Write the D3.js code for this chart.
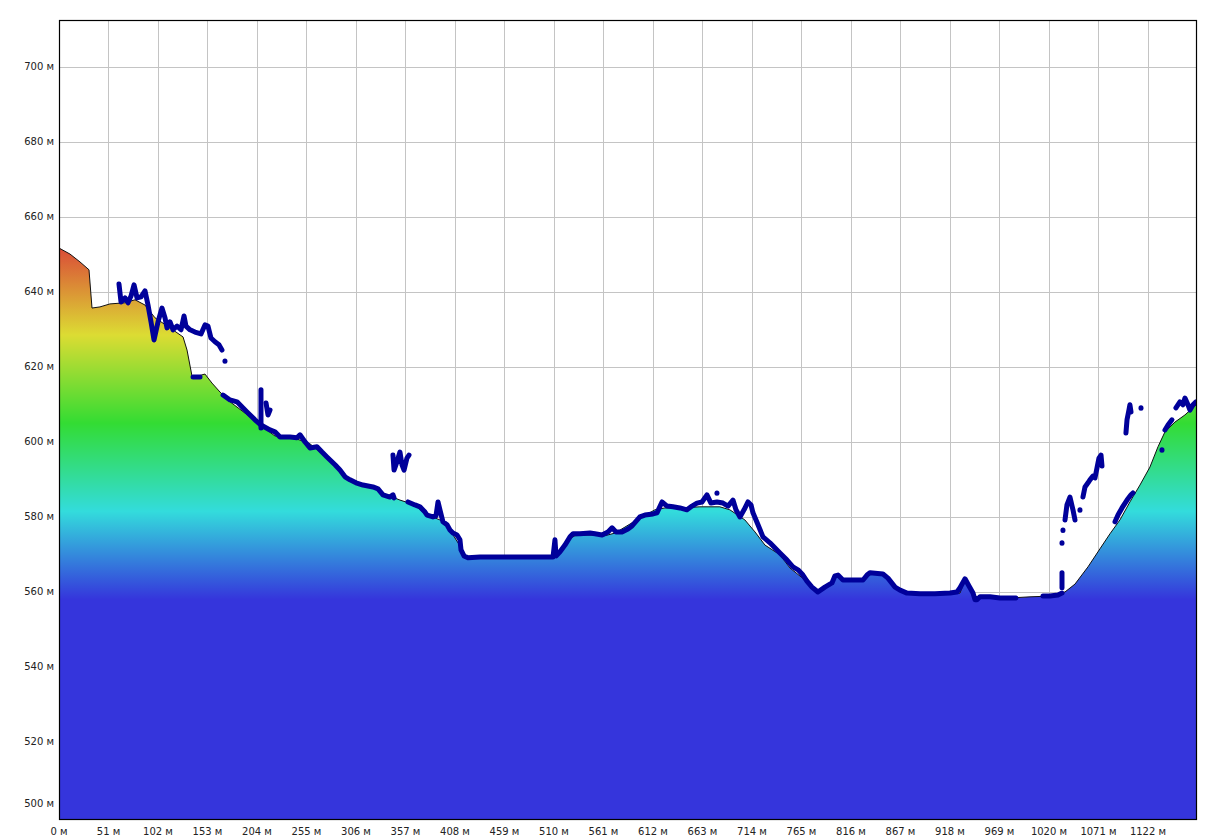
<!DOCTYPE html>
<html><head><meta charset="utf-8">
<script src="https://cdn.jsdelivr.net/npm/d3@7"></script>
<style>html,body{margin:0;padding:0;background:#fff;}svg{display:block;}</style>
</head><body>
<svg id="chart" width="1207" height="837"></svg>
<script>
// ---- data ----
const xTicks = [0,51,102,153,204,255,306,357,408,459,510,561,612,663,714,765,816,867,918,969,1020,1071,1122];
const yTicks = [500,520,540,560,580,600,620,640,660,680,700];
const unit = "м";
const totalDistance = 1172.5;
const elevRange = [499.2, 712.5];
const colorElevMax = 652, colorElevMin = 558;
const rampColors = ["#DA4A38","#DCDC33","#33DC33","#33DCDC","#3535DC"];

// terrain profile [distance, elevation]
const terrainDist = [0,11.3,21.6,30.9,34,42.2,52.5,68,78.3,88.6,98.9,114.4,127.8,131.9,137,143.2,150.4,157.6,165.9,176.2,191.6,207.1,222.5,238,248.3,258.6,268.9,284.4,294.7,309.1,325.6,335.9,351.3,366.8,377.1,392.5,402.8,413.1,418.3,423.5,511,516.2,524.4,531.6,547.1,562.5,572.8,583.1,598.5,614,624.3,639.8,660.3,680.9,691.2,706.7,717.1,727.4,742.8,753.1,768.5,781.9,794.3,801.5,809.8,827.3,835.5,847.9,856.2,866.5,882,928.3,933.5,940.7,946.8,959.2,979.8,1000.4,1021,1036.5,1046.8,1060.2,1072.5,1082.8,1093.1,1103.4,1113.7,1124,1132.3,1139.5,1149.8,1160.1,1172.5];
const terrainElev = [651.7,650.1,648,645.9,635.7,636,636.8,637.1,637.9,636.5,633.1,630.4,628,624.5,617.6,617.6,618.1,615.7,613.3,610.7,607.7,604.5,601.6,601.3,600.5,599.5,597.3,593.9,590.4,588.8,588,586.1,584.5,583.2,580.8,579.2,576.5,572.3,569.6,569.3,569.3,570.7,573.9,575,575.2,575,575.7,577.3,579.7,581.9,582.4,582.4,582.7,582.7,581.9,579.2,576,572.5,569.9,566.4,563.2,560.5,562.4,564.3,563.2,563.5,564.8,564.8,562.7,560.5,559.5,559.7,563.2,560,558.4,558.4,558.4,558.7,558.9,560,562.1,566.7,571.5,575.5,579.2,584,588.5,593.3,598.7,602.7,605.3,607.2,610.1];

// GPS track segments (each an array of [distance, elevation])
const trackSegments = [
  [[61.8,642.1],[63.9,637.3],[68,638.4],[71.1,637.1],[74.2,638.9],[77.3,641.9],[80.4,638.4],[84.5,638.7],[88.6,640.3],[91.7,636.5],[94.8,632],[97.9,627.2],[102,632],[106.1,635.7],[109.2,633.1],[111.3,630.4],[114.4,632],[117.5,629.9],[121.6,630.9],[125.7,629.9],[128.8,633.6],[130.8,630.9],[135,629.9],[140.1,629.3],[146.3,628.8],[150.4,631.2],[153.5,630.9],[156.6,627.7],[160.7,626.7],[164.8,625.9],[167.9,624.5]],
  [[171,621.6],[171,621.5]],
  [[138.1,617.3],[145.3,617.3]],
  [[169,612.5],[176.2,611.2],[183.4,610.7],[193.7,608],[201.9,605.9],[208.1,604.5],[217.4,603.2],[222.5,602.7],[227.7,601.3],[238,601.3],[245.2,601.1],[248.3,601.9],[253.5,600],[258.6,598.4],[265.8,598.7],[271,597.3],[276.1,596],[284.4,593.9],[289.5,592.5],[294.7,590.7],[299.8,589.9],[306,589.1],[313.2,588.5],[323.5,588],[328.7,587.5],[333.8,585.9],[341,585.3],[344.1,585.9],[345.2,585.1]],
  [[208.1,613.9],[208.1,603.7]],
  [[213.3,610.4],[215.3,607.2],[217.4,608.5]],
  [[344.1,596.5],[345.2,592.5],[348.2,594.7],[351.3,597.3],[353.4,593.9],[355.5,592.5],[358.5,595.7],[360.6,596.5]],
  [[359.6,584],[366.8,583.2],[371.9,582.7],[377.1,581.3],[379.2,580.5],[385.3,580],[388.4,580.3],[390.5,584],[392.5,581.9],[395.6,578.7],[399.8,577.9],[402.8,576.5],[405.9,575.7],[410.1,575.2],[413.1,573.9],[414.2,571.2],[417.3,569.6],[421.4,569.1],[433.8,569.3],[454.4,569.3],[475,569.3],[495.6,569.3],[509,569.3],[511,573.9],[512.1,569.6],[516.2,570.7],[521.3,572.5],[526.5,574.7],[529.6,575.5],[536.8,575.5],[547.1,575.7],[552.2,575.5],[559.5,575.2],[565.6,576],[569.8,577.1],[573.9,576],[580,576],[586.2,576.8],[590.4,577.6],[598.5,580],[603.7,580.5],[612,580.8],[616.1,581.1],[621.3,584],[626.5,582.9],[632.6,582.7],[639.8,582.4],[647,581.9],[652.2,582.9],[657.3,583.7],[662.5,584],[667.6,585.9],[671.7,583.7],[677.9,584],[684.1,583.7],[689.3,582.9],[694.4,584.5],[697.5,581.9],[701.6,580],[705.8,581.9],[709.9,584],[713,583.2],[715,581.1],[720.2,577.9],[725.3,574.7],[732.5,573.1],[742.8,570.4],[750.1,568.5],[756.2,566.7],[761.4,565.9],[766.5,564.5],[770.6,562.9],[775.8,561.3],[781.9,560],[789.1,561.3],[796.4,562.4],[799.5,564.3],[802.6,564.5],[807.7,563.2],[815,563.2],[828.4,563.2],[832.5,564.5],[835.5,565.1],[848.9,564.8],[854.1,563.7],[861.4,561.3],[866.5,560.5],[873.7,559.7],[887.1,559.5],[902.5,559.5],[918,559.7],[925.2,560],[928.3,561.1],[933.5,563.5],[937.6,561.6],[941.7,559.7],[943.8,557.9],[945.8,557.9],[948.9,558.7],[959.2,558.7],[969.5,558.4],[982.9,558.4],[986,558.4]],
  [[677.9,586.4],[677.9,586.3]],
  [[1013.8,558.9],[1021,558.9],[1029.3,559.2],[1033.4,559.7]],
  [[1033.4,565.1],[1033.4,561.1]],
  [[1033.4,573.1],[1033.4,573]],
  [[1034.4,576.5],[1034.4,576.4]],
  [[1036.5,579.2],[1038.5,583.2],[1041.6,585.3],[1044.7,581.9],[1046.8,579.2]],
  [[1051.9,581.9],[1051.9,581.8]],
  [[1055,585.3],[1057.1,588],[1060.2,589.1],[1062.2,589.9],[1065.3,590.9],[1067.4,590.4],[1069.5,593.1],[1071.5,595.7],[1073.6,596.5],[1074.6,593.6]],
  [[1099.3,602.4],[1100.4,605.9],[1102.4,608.5],[1103.4,609.9],[1104.5,608]],
  [[1114.8,609.1],[1114.8,609]],
  [[1088,578.7],[1091.1,580.5],[1095.2,582.4],[1100.4,584.5],[1104.5,585.9],[1106.5,586.4]],
  [[1136.4,597.9],[1136.4,597.8]],
  [[1139.5,603.2],[1142.6,604.5],[1146.7,605.9]],
  [[1150.8,609.1],[1154.9,610.7],[1158,609.9],[1160.1,611.7],[1163.2,609.9],[1165.3,608.5],[1168.4,609.9],[1171.5,610.7]]
];

(function(){
// ---- layout ----
const svg = d3.select("#chart");
const mLeft = 59, mTop = 20, mRight = 1197, mBottom = 820;
const x = d3.scaleLinear().domain([0, totalDistance]).range([mLeft, mRight]);
const y = d3.scaleLinear().domain(elevRange).range([mBottom, mTop]);

svg.append("rect").attr("x",0).attr("y",0).attr("width",1207).attr("height",837).attr("fill","#fff");

// gradient
const defs = svg.append("defs");
const grad = defs.append("linearGradient").attr("id","elevGrad")
  .attr("gradientUnits","userSpaceOnUse")
  .attr("x1",0).attr("x2",0).attr("y1",y(colorElevMax)).attr("y2",y(colorElevMin));
rampColors.forEach((c,i)=>grad.append("stop").attr("offset",i/(rampColors.length-1)).attr("stop-color",c));
defs.append("clipPath").attr("id","plotClip").append("rect")
  .attr("x",mLeft).attr("y",mTop).attr("width",mRight-mLeft).attr("height",mBottom-mTop);

// grid
const g = svg.append("g");
g.selectAll(".vg").data(xTicks.slice(1)).join("line")
  .attr("x1",d=>Math.round(x(d))+0.5).attr("x2",d=>Math.round(x(d))+0.5)
  .attr("y1",mTop).attr("y2",mBottom).attr("stroke","#c4c4c4").attr("stroke-width",1);
g.selectAll(".hg").data(yTicks).join("line")
  .attr("x1",mLeft).attr("x2",mRight)
  .attr("y1",d=>Math.round(y(d))+0.5).attr("y2",d=>Math.round(y(d))+0.5)
  .attr("stroke","#c4c4c4").attr("stroke-width",1);

const terrain = terrainDist.map((d,i)=>[d, terrainElev[i]]);
const plot = svg.append("g").attr("clip-path","url(#plotClip)");
const area = d3.area().x(d=>x(d[0])).y0(mBottom).y1(d=>y(d[1]));
plot.append("path").datum(terrain).attr("d",area).attr("fill","url(#elevGrad)");
const line = d3.line().x(d=>x(d[0])).y(d=>y(d[1]));
plot.append("path").datum(terrain).attr("d",line).attr("fill","none").attr("stroke","#111").attr("stroke-width",1);

plot.selectAll(".trk").data(trackSegments).join("path")
  .attr("d",line).attr("fill","none").attr("stroke","#00009a")
  .attr("stroke-width",5).attr("stroke-linecap","round").attr("stroke-linejoin","round");

// frame
svg.append("rect").attr("x",mLeft+0.5).attr("y",mTop+0.5).attr("width",mRight-mLeft-1).attr("height",mBottom-mTop-1)
  .attr("fill","none").attr("stroke","#000").attr("stroke-width",1.2);

// axes labels
const font = "DejaVu Sans, Verdana, sans-serif";
svg.selectAll(".yl").data(yTicks).join("text")
  .attr("x",54).attr("y",d=>Math.min(y(d), mBottom-17))
  .attr("dy","0.35em").attr("text-anchor","end")
  .attr("font-family",font).attr("font-size",10).attr("fill","#222")
  .text(d=>d+" "+unit);
svg.selectAll(".xl").data(xTicks).join("text")
  .attr("x",d=>x(d)).attr("y",831).attr("dy","0.35em").attr("text-anchor","middle")
  .attr("font-family",font).attr("font-size",10).attr("fill","#222")
  .text(d=>d+" "+unit);
})();
</script>
</body></html>
